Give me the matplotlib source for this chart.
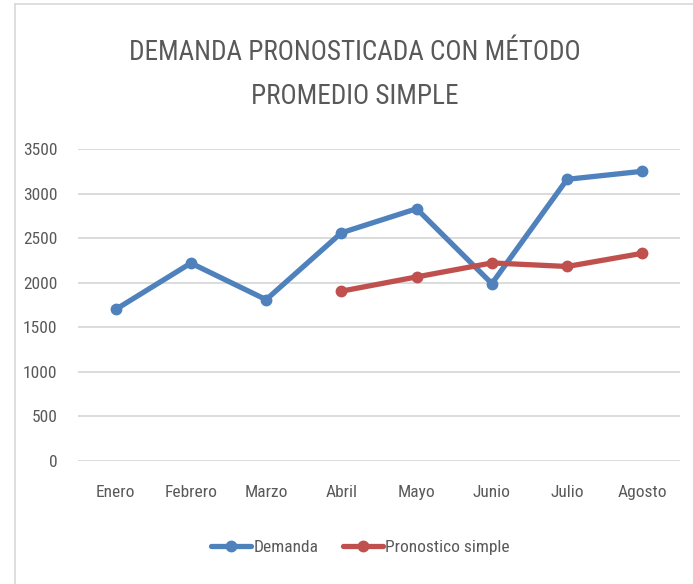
import matplotlib
matplotlib.use("Agg")
import matplotlib.pyplot as plt
from matplotlib import font_manager

months = ["Enero", "Febrero", "Marzo", "Abril", "Mayo", "Junio", "Julio", "Agosto"]
demanda = [1700, 2220, 1810, 2560, 2830, 1990, 3160, 3250]
pron_months = ["Abril", "Mayo", "Junio", "Julio", "Agosto"]
pronostico = [1905, 2065, 2222, 2182, 2330]
yticks = [0, 500, 1000, 1500, 2000, 2500, 3000, 3500]

# look for a narrow regular font (Calibri-like look)
def is_narrow(f):
    return ("Condensed" in f.name or "Narrow" in f.name
            or f.stretch in ("condensed", "semi-condensed", "extra-condensed"))

cands = [f for f in font_manager.fontManager.ttflist
         if is_narrow(f) and f.style == "normal" and f.weight in (400, "normal", "regular", "book")
         and "Mono" not in f.name]
prefs = ["Roboto Condensed", "Liberation Sans Narrow", "Open Sans", "Noto Sans", "DejaVu Sans"]
cands.sort(key=lambda f: next((i for i, p in enumerate(prefs) if f.name.startswith(p)), 99))
if cands:
    fpath = cands[0].fname
else:
    fpath = font_manager.findfont("DejaVu Sans")

def fp(size):
    return font_manager.FontProperties(fname=fpath, size=size)

gray = "#595959"
blue = "#4F81BD"
red = "#C0504D"

fig = plt.figure(figsize=(6.93, 5.84), dpi=100)
ax = fig.add_axes([78/693, 1 - 461/584, (680 - 78)/693, (461 - 149)/584])

x = list(range(len(months)))
xp = [months.index(m) for m in pron_months]
ax.plot(x, demanda, color=blue, lw=3.8, marker="o", ms=7.5, label="Demanda", solid_capstyle="round")
ax.plot(xp, pronostico, color=red, lw=3.8, marker="o", ms=7.5, label="Pronostico simple", solid_capstyle="round")

ax.set_xlim(-0.5, len(months) - 0.5)
ax.set_ylim(0, 3500)
ax.set_yticks(yticks)
ax.set_xticks(x)
ax.set_xticklabels(months)
ax.tick_params(length=0, colors=gray, pad=17)
ax.tick_params(axis="y", pad=15)
for lab in ax.get_xticklabels() + ax.get_yticklabels():
    lab.set_fontproperties(fp(12.5))
for s in ax.spines.values():
    s.set_visible(False)
ax.grid(axis="y", color="#D9D9D9", lw=1.3)
ax.set_axisbelow(True)
for ln in ax.lines:
    ln.set_clip_on(False)

fig.text(0.512, 1 - 52/584, "DEMANDA PRONOSTICADA CON MÉTODO", ha="center", va="center",
         fontproperties=fp(19.5), color=gray)
fig.text(0.512, 1 - 97/584, "PROMEDIO SIMPLE", ha="center", va="center",
         fontproperties=fp(19.5), color=gray)

fig.legend(loc="center", bbox_to_anchor=(0.52, 1 - 547/584), ncol=2, frameon=False,
           prop=fp(12.5), labelcolor=gray, handlelength=2.3, handletextpad=0.15, columnspacing=1.4)

# chart border (top and left visible)
fig.add_artist(plt.Line2D([15/693, 1], [1 - 4/584, 1 - 4/584], color="#D9D9D9", lw=1.2))
fig.add_artist(plt.Line2D([15/693, 15/693], [0, 1 - 4/584], color="#D9D9D9", lw=1.2))

fig.savefig("out.png", dpi=100)
